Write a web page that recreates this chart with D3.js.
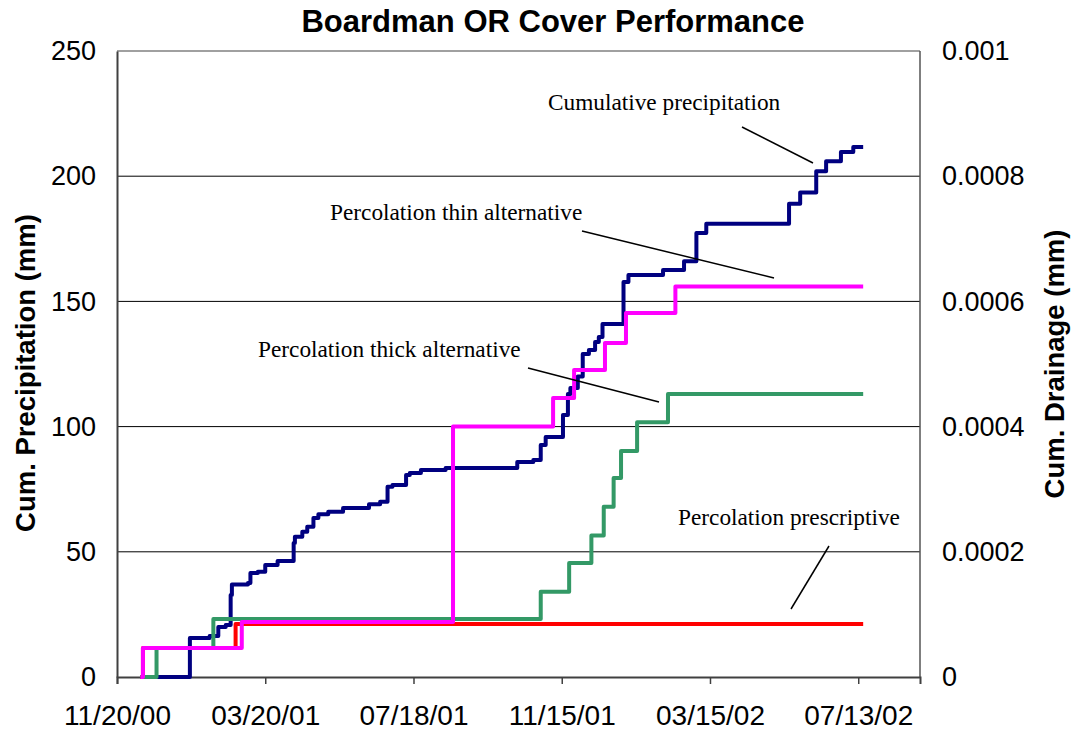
<!DOCTYPE html>
<html>
<head>
<meta charset="utf-8">
<script src="https://cdn.jsdelivr.net/npm/d3@7"></script>
<style>
  body { margin: 0; background: #fff; }
</style>
</head>
<body>
<div id="chart"></div>
<script>
// ---- data ----
const xTickDates = ["2000-11-20", "2001-03-20", "2001-07-18", "2001-11-15", "2002-03-15", "2002-07-13"];
const precipTicks = [0, 50, 100, 150, 200, 250];
const drainTicks = [0, 0.0002, 0.0004, 0.0006, 0.0008, 0.001];

// cumulative precipitation (mm, left axis)
const precip = [
  ["2000-12-09", 0], ["2001-01-18", 15.6], ["2001-02-03", 16.4], ["2001-02-10", 20],
  ["2001-02-16", 20.8], ["2001-02-20", 32.7], ["2001-02-21", 36.9], ["2001-03-06", 37.5],
  ["2001-03-08", 41.5], ["2001-03-14", 42], ["2001-03-20", 44.7], ["2001-03-30", 46.3],
  ["2001-04-12", 53.5], ["2001-04-13", 56], ["2001-04-19", 58], ["2001-04-23", 60],
  ["2001-04-28", 63.5], ["2001-05-02", 65], ["2001-05-10", 66], ["2001-05-22", 67.5],
  ["2001-06-12", 69], ["2001-06-21", 70], ["2001-06-27", 76], ["2001-07-01", 76.7],
  ["2001-07-12", 80.7], ["2001-07-15", 81.5], ["2001-07-24", 82.7], ["2001-08-13", 83.5],
  ["2001-10-10", 85.9], ["2001-10-23", 86.7], ["2001-10-29", 92.7], ["2001-11-02", 95.8],
  ["2001-11-16", 104.6], ["2001-11-20", 113], ["2001-11-22", 115.4], ["2001-11-28", 120],
  ["2001-12-02", 129], ["2001-12-07", 130.6], ["2001-12-12", 133.8], ["2001-12-15", 135.8],
  ["2001-12-18", 141], ["2002-01-04", 157.7], ["2002-01-08", 160.5], ["2002-02-05", 162.5],
  ["2002-02-22", 166], ["2002-03-04", 177.3], ["2002-03-12", 181], ["2002-05-18", 189],
  ["2002-05-27", 193.5], ["2002-06-09", 202], ["2002-06-17", 206], ["2002-06-29", 209.7],
  ["2002-07-09", 211.7], ["2002-07-17", 211.7]
];

// cumulative drainage (mm, right axis)
const percThin = [
  ["2000-12-09", 0], ["2000-12-11", 0.0000464], ["2001-03-01", 0.000088],
  ["2001-08-19", 0.0004], ["2001-11-08", 0.0004456], ["2001-11-25", 0.0004904],
  ["2001-12-20", 0.0005336], ["2002-01-06", 0.0005816], ["2002-02-15", 0.000624],
  ["2002-07-17", 0.000624]
];
const percThick = [
  ["2000-12-09", 0], ["2000-12-22", 0.0000464], ["2001-02-06", 0.0000928],
  ["2001-10-29", 0.000136], ["2001-11-21", 0.000182], ["2001-12-09", 0.000226],
  ["2001-12-19", 0.000272], ["2001-12-27", 0.000318], ["2002-01-02", 0.000361],
  ["2002-01-15", 0.000407], ["2002-02-09", 0.000452], ["2002-07-17", 0.000452]
];
const percPresc = [
  ["2000-12-09", 0], ["2000-12-11", 0.0000464], ["2001-02-24", 0.0000848],
  ["2002-07-17", 0.0000848]
];

const width = 1073, height = 731;
const plotLeft = 117, plotRight = 920, plotTop = 51, plotBottom = 677;
const parse = d3.timeParse("%Y-%m-%d");

let svg = d3.select("#chart")
  .append("svg")
    .attr("width", width)
    .attr("height", height)
;

let x = d3.scaleTime()
  .domain([parse("2000-11-20"), parse("2002-09-01")])
  .range([plotLeft, plotRight]);
let yL = d3.scaleLinear().domain([0, 250]).range([plotBottom, plotTop]);
let yR = d3.scaleLinear().domain([0, 0.001]).range([plotBottom, plotTop]);

// gridlines
svg.selectAll(".grid").data(precipTicks.filter(d => d > 0 && d < 250)).enter()
  .append("line")
    .attr("class", "grid")
    .attr("x1", plotLeft).attr("x2", plotRight)
    .attr("y1", d => yL(d)).attr("y2", d => yL(d))
    .attr("stroke", "#000")
    .attr("stroke-width", 1)
;

// plot frame
svg.append("line").attr("x1", plotLeft).attr("x2", plotRight).attr("y1", plotTop).attr("y2", plotTop)
  .attr("stroke", "#808080").attr("stroke-width", 1.5);
svg.append("line").attr("x1", plotRight).attr("x2", plotRight).attr("y1", plotTop).attr("y2", plotBottom)
  .attr("stroke", "#555").attr("stroke-width", 1.5);

// axes
let xAxis = svg.append("g")
  .attr("transform", "translate(0," + plotBottom + ")")
  .call(d3.axisBottom(x)
    .tickValues(xTickDates.map(parse))
    .tickFormat(d3.timeFormat("%m/%d/%y"))
    .tickSize(7)
    .tickPadding(21));
let yAxisL = svg.append("g")
  .attr("transform", "translate(" + plotLeft + ",0)")
  .call(d3.axisLeft(yL).tickValues(precipTicks).tickSize(0).tickPadding(21));
let yAxisR = svg.append("g")
  .attr("transform", "translate(" + plotRight + ",0)")
  .call(d3.axisRight(yR).tickValues(drainTicks).tickSize(0).tickPadding(22)
    .tickFormat(d3.format("~g")));

[xAxis, yAxisL, yAxisR].forEach(function(g){
  g.selectAll("text")
    .attr("font-family", "Liberation Sans, Arial, sans-serif")
    .attr("font-size", 27)
    .attr("fill", "#000");
  g.selectAll("line").attr("stroke", "#404040").attr("stroke-width", 1.5);
});
xAxis.selectAll("text").attr("font-size", 28);
yAxisR.select(".domain").remove();
yAxisL.select(".domain").attr("stroke", "#404040").attr("stroke-width", 2);
xAxis.select(".domain").attr("stroke", "#404040").attr("stroke-width", 2);

// series
function stepLine(yScale){
  return d3.line()
    .x(d => x(parse(d[0])))
    .y(d => yScale(d[1]))
    .curve(d3.curveStepAfter);
}
let series = [
  {data: precip, scale: yL, color: "#000080"},
  {data: percPresc, scale: yR, color: "#FF0000"},
  {data: percThick, scale: yR, color: "#339966"},
  {data: percThin, scale: yR, color: "#FF00FF"}
];
series.forEach(function(s){
  svg.append("path")
    .datum(s.data)
    .attr("d", stepLine(s.scale))
    .attr("fill", "none")
    .attr("stroke", s.color)
    .attr("stroke-width", 4)
    .attr("stroke-linejoin", "round");
});

// callouts
let notes = [
  {text: "Cumulative precipitation", tx: 548, ty: 110, line: [742, 127, 813, 163]},
  {text: "Percolation thin alternative", tx: 330, ty: 220, line: [582, 231, 774, 278]},
  {text: "Percolation thick alternative", tx: 258, ty: 357, line: [528, 368, 659, 402]},
  {text: "Percolation prescriptive", tx: 678, ty: 525, line: [829, 546, 791, 609]}
];
let noteGroups = svg.selectAll(".note").data(notes).enter()
  .append("g")
    .attr("class", "note")
;
noteGroups.append("text")
  .attr("x", d => d.tx)
  .attr("y", d => d.ty)
  .attr("font-family", "Liberation Serif, Times New Roman, serif")
  .attr("font-size", 23.3)
  .text(d => d.text)
;
noteGroups.append("line")
  .attr("x1", d => d.line[0]).attr("y1", d => d.line[1])
  .attr("x2", d => d.line[2]).attr("y2", d => d.line[3])
  .attr("stroke", "#000")
  .attr("stroke-width", 1.5)
;

// titles
svg.append("text")
  .text("Boardman OR Cover Performance")
    .attr("x", 553)
    .attr("y", 32)
    .attr("text-anchor", "middle")
    .attr("font-family", "Liberation Sans, Arial, sans-serif")
    .attr("font-weight", "bold")
    .attr("font-size", 31)
;
svg.append("text")
  .text("Cum. Precipitation (mm)")
    .attr("transform", "translate(35,373) rotate(-90)")
    .attr("text-anchor", "middle")
    .attr("font-family", "Liberation Sans, Arial, sans-serif")
    .attr("font-weight", "bold")
    .attr("font-size", 27.5)
;
svg.append("text")
  .text("Cum. Drainage (mm)")
    .attr("transform", "translate(1064,364) rotate(-90)")
    .attr("text-anchor", "middle")
    .attr("font-family", "Liberation Sans, Arial, sans-serif")
    .attr("font-weight", "bold")
    .attr("font-size", 27.5)
;
</script>
</body>
</html>
